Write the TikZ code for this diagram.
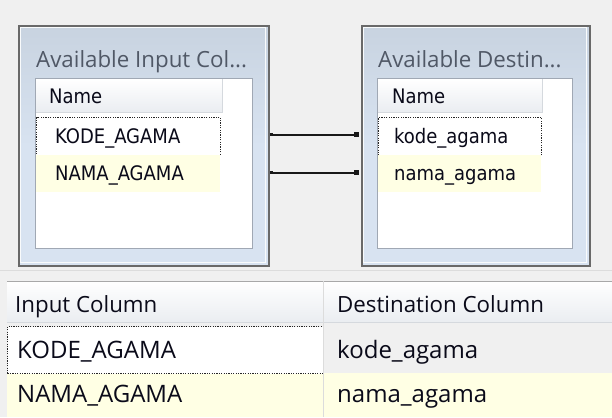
\documentclass[tikz,border=0pt]{standalone}
\usepackage{fontspec}
\setmainfont{Open Sans}
\newfontfamily\listfont{DejaVu Sans Condensed}
\newfontfamily\uifont{Open Sans}
\usetikzlibrary{arrows.meta}
\definecolor{bgc}{RGB}{240,240,240}
\definecolor{framec}{RGB}{105,105,105}
\definecolor{bluetop}{RGB}{200,211,224}
\definecolor{bluebot}{RGB}{216,227,241}
\definecolor{listborder}{RGB}{160,168,180}
\definecolor{hdrbot}{RGB}{234,237,241}
\definecolor{hdrline}{RGB}{213,217,222}
\definecolor{rowyellow}{RGB}{255,255,228}
\definecolor{titlec}{RGB}{80,88,102}
\definecolor{txtc}{RGB}{10,10,25}
\definecolor{sepc}{RGB}{168,168,168}
\definecolor{lightsep}{RGB}{220,220,220}
\tikzset{
  frame/.style={draw=framec, line width=1.6pt, inner sep=0pt, anchor=north west,
    top color=bluetop, bottom color=bluebot, middle color=bluebot},
  listbox/.style={draw=listborder, line width=0.8pt, fill=white, inner sep=0pt, anchor=north west},
  hdrcell/.style={inner sep=0pt, anchor=north west, top color=white, bottom color=hdrbot},
  selrow/.style={draw=black!85, line width=1.2pt, dash pattern=on 1.2pt off 1.2pt, fill=white, inner sep=0pt, anchor=north west},
  yelrow/.style={fill=rowyellow, inner sep=0pt, anchor=north west},
  titletxt/.style={font=\uifont\fontsize{22.3}{26}\selectfont, text=titlec, anchor=base west, inner sep=0pt},
  itemtxt/.style={font=\listfont\fontsize{20}{24}\selectfont, text=txtc, anchor=base west, inner sep=0pt},
  gridtxt/.style={font=\uifont\fontsize{24}{28}\selectfont, text=txtc, anchor=base west, inner sep=0pt},
  gridhdr/.style={font=\uifont\fontsize{22.3}{26}\selectfont, text=txtc, anchor=base west, inner sep=0pt},
  link/.style={line width=2pt, black!90, {Square[length=3pt,width=3.5pt]}-{Square[length=4.5pt,width=4.5pt]}}
}
\begin{document}
\begin{tikzpicture}[x=1pt,y=-1pt]
\useasboundingbox (0,0) rectangle (612,417);
\fill[bgc] (0,0) rectangle (612,417);

% ---- left box ----
\node[frame, minimum width=250pt, minimum height=240pt] (lframe) at (18,25) {};
\draw[white!90!bluetop, line width=0.8pt] (20.5,27.5) rectangle (265.5,262.5);
\node[titletxt] (ltitle) at (36,68) {Available Input Col...};
\node[listbox, minimum width=217pt, minimum height=170pt] (llist) at (35,78) {};
\node[hdrcell, minimum width=186pt, minimum height=33pt] (lhdr) at (36,79) {};
\draw[hdrline, line width=0.8pt] (lhdr.south west) -- (lhdr.south east) -- (lhdr.north east);
\node[itemtxt] (lname) at (49,103) {Name};
\node[selrow, minimum width=184pt, minimum height=38pt] (lkode) at (36,117) {};
\node[yelrow, minimum width=184pt, minimum height=37pt] (lnama) at (36,155) {};
\node[itemtxt] (lkodet) at (55,143) {KODE\_AGAMA};
\node[itemtxt] (lnamat) at (55,180) {NAMA\_AGAMA};

% ---- right box ----
\node[frame, minimum width=228pt, minimum height=240pt] (rframe) at (361,25) {};
\draw[white!90!bluetop, line width=0.8pt] (363.5,27.5) rectangle (586.5,262.5);
\node[titletxt] (rtitle) at (378,68) {Available Destin...};
\node[listbox, minimum width=195pt, minimum height=170pt] (rlist) at (377,78) {};
\node[hdrcell, minimum width=164pt, minimum height=33pt] (rhdr) at (378,79) {};
\draw[hdrline, line width=0.8pt] (rhdr.south west) -- (rhdr.south east) -- (rhdr.north east);
\node[itemtxt] (rname) at (392,103) {Name};
\node[selrow, minimum width=163pt, minimum height=38pt] (rkode) at (378,117) {};
\node[yelrow, minimum width=163pt, minimum height=37pt] (rnama) at (378,155) {};
\node[itemtxt] (rkodet) at (394,143) {kode\_agama};
\node[itemtxt] (rnamat) at (394,180) {nama\_agama};

% ---- connectors ----
\draw[link, shorten >=2.5pt] (lframe.east |- lkode.center) ++(0,-2) coordinate (c1s)
  -- (rframe.west |- c1s);
\draw[link, shorten >=2.5pt] (lframe.east |- lnama.center) ++(0,-1) coordinate (c2s)
  -- (rframe.west |- c2s);

% ---- bottom grid ----
\draw[lightsep, line width=0.8pt] (0,270) -- (612,270);
\node[hdrcell, minimum width=605pt, minimum height=41pt] (ghdr) at (7,281) {};
\draw[sepc, line width=1pt] (ghdr.north west) -- (ghdr.north east);
\draw[hdrline, line width=0.8pt] (ghdr.south west) -- (ghdr.south east);
\node[gridhdr] (ghin) at (15,312) {Input Column};
\node[gridhdr] (ghdst) at (337,312) {Destination Column};
\node[yelrow, minimum width=605pt, minimum height=44pt] (grow2) at (7,373) {};
\node[selrow, minimum width=316pt, minimum height=47pt] (grow1) at (7,326) {};
\draw[lightsep, line width=0.8pt] (323,281) -- (323,417);
\node[gridtxt] (g1a) at (17,358) {KODE\_AGAMA};
\node[gridtxt] (g1b) at (337,358) {kode\_agama};
\node[gridtxt] (g2a) at (17,402) {NAMA\_AGAMA};
\node[gridtxt] (g2b) at (337,402) {nama\_agama};
\end{tikzpicture}
\end{document}
